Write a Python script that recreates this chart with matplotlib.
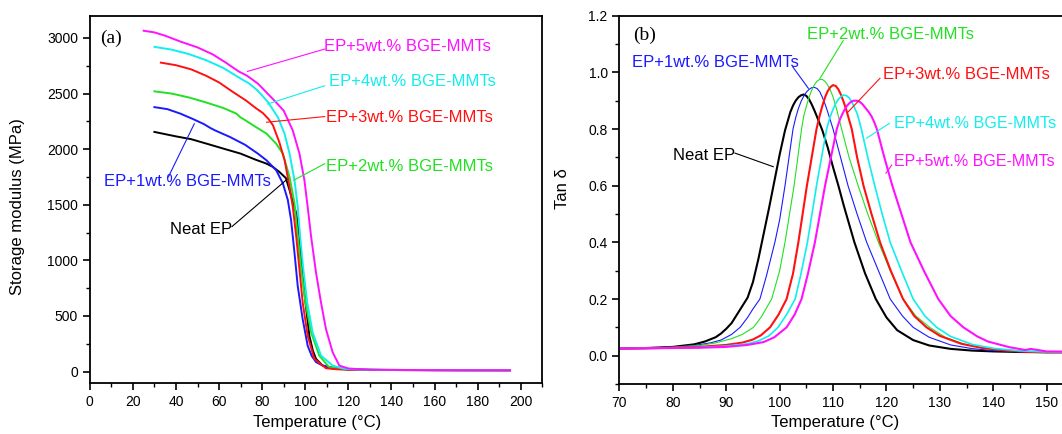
import matplotlib
matplotlib.use("Agg")
import matplotlib.pyplot as plt
from matplotlib.ticker import MultipleLocator, FormatStrFormatter

plt.rcParams['font.family'] = ['Liberation Sans', 'DejaVu Sans']

# (a) storage modulus (MPa) vs temperature (°C)
T_neat = [30, 35, 40, 47, 55, 62, 70, 77, 82, 85, 88, 91, 92.7, 94, 95.8, 97.3, 98.5, 100.1, 101.9, 103.5, 105, 108, 112, 120, 130, 150, 170, 195]
E_neat = [2155, 2135, 2115, 2090, 2045, 2005, 1960, 1905, 1870, 1840, 1795, 1740, 1632, 1540, 1424, 1215, 918, 620, 322, 190, 114, 55, 30, 18, 15, 13, 12, 12]
T_1 = [30, 36, 42, 48, 53, 56, 58, 65, 72, 78, 82, 86.5, 89.6, 91.9, 93.4, 95, 96.5, 98.8, 101.1, 103, 105, 108, 112, 120, 130, 160, 195]
E_1 = [2378, 2360, 2320, 2270, 2225, 2190, 2170, 2110, 2040, 1960, 1900, 1811, 1692, 1543, 1364, 1067, 769, 471, 233, 140, 85, 55, 38, 22, 16, 13, 12]
T_2 = [30, 38, 46, 54, 62, 68, 70, 72, 77, 82, 86.5, 89.6, 92.7, 95, 96.5, 98.1, 100.1, 102.7, 106.5, 111, 116, 125, 140, 195]
E_2 = [2520, 2500, 2465, 2420, 2370, 2320, 2285, 2262, 2200, 2140, 2049, 1960, 1751, 1513, 1215, 918, 620, 353, 144, 40, 25, 18, 15, 12]
T_3 = [33, 40, 47, 54, 60, 66, 72.6, 77, 80.3, 83, 85, 88, 90.4, 92.7, 94.2, 95.8, 97.3, 98.8, 101.1, 104.2, 109.6, 115, 125, 140, 195]
E_3 = [2778, 2755, 2718, 2660, 2600, 2520, 2436, 2370, 2325, 2270, 2215, 2060, 1900, 1662, 1483, 1215, 918, 620, 322, 114, 30, 20, 16, 14, 12]
T_4 = [30, 38, 46, 54, 62, 70, 74, 78, 82.6, 87.3, 90.4, 92.7, 95, 96.5, 97.6, 99.1, 100.9, 103.4, 107.3, 112.7, 118, 125, 140, 195]
E_4 = [2920, 2895, 2855, 2800, 2730, 2635, 2590, 2525, 2425, 2287, 2138, 1960, 1721, 1483, 1215, 918, 620, 353, 144, 54, 25, 18, 14, 12]
T_5 = [25, 30, 35, 42, 50, 57, 63, 69, 73, 78, 82, 86, 90, 94.2, 97.3, 99.6, 101.1, 102.7, 105, 107.3, 109.6, 112.7, 115.8, 120, 130, 160, 195]
E_5 = [3065, 3050, 3020, 2968, 2915, 2853, 2780, 2700, 2660, 2590, 2510, 2430, 2346, 2168, 1960, 1721, 1483, 1215, 888, 621, 382, 174, 54, 28, 16, 13, 12]

# (b) tan delta vs temperature (°C)
Tb_neat = [70, 75, 80, 84, 86, 88, 89, 90, 91, 92, 93, 94, 95, 96, 97, 98, 99, 100, 101, 102, 102.5, 103, 103.5, 104, 104.5, 105, 105.5, 106, 106.5, 107, 108, 109, 110, 111, 112, 113, 114, 116, 118, 120, 122, 125, 128, 132, 136, 140, 145, 150, 155]
tan_neat = [0.025, 0.027, 0.031, 0.040, 0.050, 0.065, 0.078, 0.095, 0.115, 0.145, 0.175, 0.205, 0.26, 0.34, 0.43, 0.52, 0.615, 0.71, 0.795, 0.86, 0.883, 0.90, 0.912, 0.919, 0.922, 0.917, 0.905, 0.887, 0.866, 0.843, 0.795, 0.735, 0.665, 0.60, 0.53, 0.465, 0.40, 0.29, 0.20, 0.135, 0.090, 0.055, 0.036, 0.024, 0.018, 0.015, 0.013, 0.012, 0.012]
Tb_1 = [70, 75, 80, 84, 87, 89, 91, 92.6, 94, 95, 96.3, 97.5, 99.1, 100, 101, 102.5, 103, 103.5, 104, 104.5, 105, 105.5, 106, 106.5, 107, 107.5, 108, 108.5, 109, 110, 111.4, 112.8, 114.5, 116.3, 118.5, 120.7, 123, 125, 128, 132, 136, 140, 145, 150, 155]
tan_1 = [0.025, 0.027, 0.030, 0.036, 0.045, 0.055, 0.075, 0.10, 0.135, 0.165, 0.20, 0.28, 0.40, 0.48, 0.60, 0.80, 0.84, 0.872, 0.897, 0.916, 0.93, 0.94, 0.946, 0.947, 0.943, 0.932, 0.912, 0.888, 0.86, 0.80, 0.70, 0.60, 0.50, 0.40, 0.30, 0.20, 0.14, 0.10, 0.065, 0.038, 0.025, 0.018, 0.014, 0.012, 0.012]
Tb_2 = [70, 75, 80, 85, 88, 91, 93, 95.1, 96.5, 98.5, 100, 101, 102.7, 104.1, 104.5, 105, 105.5, 106, 106.5, 107, 107.5, 108, 108.5, 109, 109.5, 110, 110.6, 111.6, 113, 114.7, 116.5, 118.5, 120.7, 123.1, 125.5, 128.1, 131, 135, 140, 145, 150, 155]
tan_2 = [0.025, 0.027, 0.030, 0.036, 0.045, 0.060, 0.075, 0.10, 0.135, 0.20, 0.30, 0.40, 0.60, 0.80, 0.845, 0.88, 0.912, 0.937, 0.956, 0.969, 0.975, 0.975, 0.968, 0.955, 0.937, 0.913, 0.875, 0.80, 0.70, 0.60, 0.50, 0.40, 0.30, 0.20, 0.14, 0.10, 0.065, 0.038, 0.022, 0.015, 0.012, 0.012]
Tb_3 = [70, 75, 80, 85, 90, 93, 95, 96.5, 98.2, 99.8, 101.3, 102.5, 103.5, 105.1, 106.9, 107.5, 108, 108.5, 109, 109.5, 110, 110.5, 111, 111.5, 112, 112.5, 113.5, 114.5, 115.7, 117.2, 118.8, 120.8, 123.1, 125.2, 127.5, 130, 134, 138, 142, 146, 150, 155]
tan_3 = [0.025, 0.026, 0.028, 0.031, 0.038, 0.046, 0.057, 0.072, 0.10, 0.145, 0.20, 0.29, 0.40, 0.60, 0.80, 0.848, 0.882, 0.912, 0.934, 0.948, 0.955, 0.952, 0.94, 0.92, 0.895, 0.866, 0.80, 0.70, 0.60, 0.50, 0.40, 0.30, 0.20, 0.14, 0.10, 0.07, 0.042, 0.027, 0.019, 0.014, 0.012, 0.012]
Tb_4 = [70, 75, 80, 85, 90, 94, 96, 98, 99.7, 101.3, 102.9, 104, 105.2, 106.9, 108.8, 109.4, 110, 110.5, 111, 111.5, 112, 112.5, 113, 113.5, 114, 114.6, 115.3, 116.5, 117.8, 119.2, 120.7, 122.8, 125, 127.2, 129.4, 132, 136, 140, 145, 150, 155]
tan_4 = [0.025, 0.026, 0.027, 0.029, 0.034, 0.042, 0.052, 0.070, 0.10, 0.145, 0.20, 0.29, 0.40, 0.60, 0.80, 0.84, 0.87, 0.89, 0.905, 0.915, 0.92, 0.918, 0.91, 0.896, 0.876, 0.85, 0.80, 0.70, 0.60, 0.50, 0.40, 0.30, 0.20, 0.14, 0.10, 0.068, 0.040, 0.026, 0.017, 0.013, 0.012]
Tb_5 = [70, 75, 80, 85, 90, 94, 97, 99, 101.3, 102.8, 104.1, 105.3, 106.6, 108.5, 110.7, 111.3, 112, 112.6, 113.2, 113.8, 114.5, 115, 115.5, 116, 116.6, 117.2, 117.7, 118.2, 119.6, 121.1, 122.8, 124.5, 127, 129.7, 132, 134.4, 137, 139, 143, 146, 147, 150, 155]
tan_5 = [0.025, 0.026, 0.027, 0.028, 0.031, 0.038, 0.048, 0.065, 0.10, 0.145, 0.20, 0.29, 0.40, 0.60, 0.80, 0.835, 0.863, 0.882, 0.894, 0.90, 0.90, 0.896, 0.888, 0.876, 0.862, 0.845, 0.825, 0.80, 0.70, 0.60, 0.50, 0.40, 0.30, 0.20, 0.14, 0.10, 0.068, 0.05, 0.03, 0.02, 0.024, 0.015, 0.014]

BLACK, BLUE, GREEN, RED, CYAN, MAGENTA = 'black', '#1a1aff', '#22e022', '#ff1111', '#11eeee', '#ff11ff'

fig = plt.figure(figsize=(10.62, 4.34), dpi=100)
ax1 = fig.add_axes([0.0845, 0.1182, 0.4262, 0.8456])
ax2 = fig.add_axes([0.5833, 0.1152, 0.4274, 0.8486])

for T, E, c in [(T_neat, E_neat, BLACK), (T_1, E_1, BLUE), (T_2, E_2, GREEN),
                (T_3, E_3, RED), (T_4, E_4, CYAN), (T_5, E_5, MAGENTA)]:
    ax1.plot(T, E, color=c, lw=1.4)

for T, y, c, w in [(Tb_neat, tan_neat, BLACK, 1.5), (Tb_1, tan_1, BLUE, 0.8), (Tb_2, tan_2, GREEN, 0.8),
                   (Tb_3, tan_3, RED, 1.5), (Tb_4, tan_4, CYAN, 1.2), (Tb_5, tan_5, MAGENTA, 1.5)]:
    ax2.plot(T, y, color=c, lw=w)

ax1.set_xlim(0, 210)
ax1.set_ylim(-100, 3200)
ax1.xaxis.set_major_locator(MultipleLocator(20))
ax1.xaxis.set_minor_locator(MultipleLocator(10))
ax1.yaxis.set_major_locator(MultipleLocator(500))
ax1.yaxis.set_minor_locator(MultipleLocator(250))

ax2.set_xlim(70, 155)
ax2.set_ylim(-0.1, 1.2)
ax2.xaxis.set_major_locator(MultipleLocator(10))
ax2.xaxis.set_minor_locator(MultipleLocator(5))
ax2.yaxis.set_major_locator(MultipleLocator(0.2))
ax2.yaxis.set_minor_locator(MultipleLocator(0.1))
ax2.yaxis.set_major_formatter(FormatStrFormatter('%.1f'))

for ax in (ax1, ax2):
    for s in ax.spines.values():
        s.set_linewidth(1.3)
    ax.tick_params(which='major', direction='out', length=5, width=1.2, labelsize=10)
    ax.tick_params(which='minor', direction='out', length=3, width=1.0)
    ax.set_xlabel('Temperature (°C)', fontsize=12)

ax1.set_ylabel('Storage modulus (MPa)', fontsize=12)
ax2.set_ylabel('Tan δ', fontsize=12)
ax1.xaxis.set_label_coords(0.502, -0.088)
ax2.xaxis.set_label_coords(0.4755, -0.084)
ax1.yaxis.set_label_coords(-0.143, 0.48)
ax2.yaxis.set_label_coords(-0.109, 0.53)

ax1.text(0.023, 0.939, '(a)', transform=ax1.transAxes, fontsize=14,
         family=['Liberation Serif', 'DejaVu Serif'], va='center')
ax2.text(0.029, 0.948, '(b)', transform=ax2.transAxes, fontsize=14,
         family=['Liberation Serif', 'DejaVu Serif'], va='center')

# labels with leader lines: (text, text pos, line start, line end, colour, size)
notes_a = [
    ('EP+5wt.% BGE-MMTs', (108.9, 2927), (109.0, 2900), (73.2, 2699), MAGENTA, 12),
    ('EP+4wt.% BGE-MMTs', (111.2, 2605), (109.0, 2570), (82.5, 2406), CYAN, 12),
    ('EP+3wt.% BGE-MMTs', (109.8, 2281), (109.0, 2293), (82.0, 2242), RED, 12),
    ('EP+2wt.% BGE-MMTs', (109.8, 1846), (109.0, 1869), (94.7, 1721), GREEN, 12),
    ('EP+1wt.% BGE-MMTs', (6.75, 1706), (36.5, 1751), (48.5, 2228), BLUE, 12),
    ('Neat EP', (37.4, 1281), (66.0, 1304), (91.5, 1728), BLACK, 12),
]
notes_b = [
    ('EP+2wt.% BGE-MMTs', (105.06, 1.135), (111.9, 1.112), (107.55, 0.979), GREEN, 12),
    ('EP+1wt.% BGE-MMTs', (72.28, 1.036), (102.43, 1.020), (105.36, 0.944), BLUE, 12),
    ('EP+3wt.% BGE-MMTs', (119.29, 0.991), (118.78, 0.979), (112.85, 0.861), RED, 12),
    ('EP+4wt.% BGE-MMTs', (121.45, 0.820), (120.55, 0.820), (116.29, 0.768), CYAN, 11.6),
    ('EP+5wt.% BGE-MMTs', (121.5, 0.685), (121.0, 0.673), (119.9, 0.644), MAGENTA, 11.5),
    ('Neat EP', (79.96, 0.705), (91.63, 0.715), (98.80, 0.667), BLACK, 12),
]
for ax, notes in [(ax1, notes_a), (ax2, notes_b)]:
    for label, tpos, p0, p1, c, fs in notes:
        ax.plot([p0[0], p1[0]], [p0[1], p1[1]], color=c, lw=0.8, clip_on=False)
        ax.text(tpos[0], tpos[1], label, color=c, fontsize=fs, va='center', ha='left', clip_on=False)

fig.savefig('out.png', dpi=100)
